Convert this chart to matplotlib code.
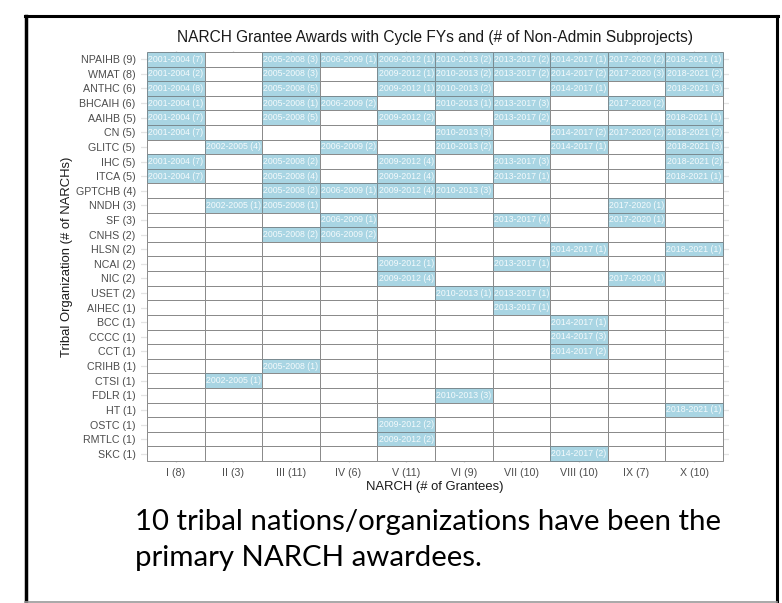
import matplotlib
matplotlib.use("Agg")
import matplotlib.pyplot as plt
from matplotlib.lines import Line2D

# ---------------- data ----------------
organizations = ["NPAIHB", "WMAT", "ANTHC", "BHCAIH", "AAIHB", "CN", "GLITC", "IHC",
                 "ITCA", "GPTCHB", "NNDH", "SF", "CNHS", "HLSN", "NCAI", "NIC", "USET",
                 "AIHEC", "BCC", "CCCC", "CCT", "CRIHB", "CTSI", "FDLR", "HT", "OSTC",
                 "RMTLC", "SKC"]
narch_cycles = ["I", "II", "III", "IV", "V", "VI", "VII", "VIII", "IX", "X"]
cycle_years = ["2001-2004", "2002-2005", "2005-2008", "2006-2009", "2009-2012",
               "2010-2013", "2013-2017", "2014-2017", "2017-2020", "2018-2021"]
N = None
# number of non-admin subprojects per NARCH cycle (None = no award)
subprojects = [
    [7, N, 3, 1, 1, 2, 2, 1, 2, 1],   # NPAIHB
    [2, N, 3, N, 1, 2, 2, 2, 3, 2],   # WMAT
    [8, N, 5, N, 1, 2, N, 1, N, 3],   # ANTHC
    [1, N, 1, 2, N, 1, 3, N, 2, N],   # BHCAIH
    [7, N, 5, N, 2, N, 2, N, N, 1],   # AAIHB
    [7, N, N, N, N, 3, N, 2, 2, 2],   # CN
    [N, 4, N, 2, N, 2, N, 1, N, 3],   # GLITC
    [7, N, 2, N, 4, N, 3, N, N, 2],   # IHC
    [7, N, 4, N, 4, N, 1, N, N, 1],   # ITCA
    [N, N, 2, 1, 4, 3, N, N, N, N],   # GPTCHB
    [N, 1, 1, N, N, N, N, N, 1, N],   # NNDH
    [N, N, N, 1, N, N, 4, N, 1, N],   # SF
    [N, N, 2, 2, N, N, N, N, N, N],   # CNHS
    [N, N, N, N, N, N, N, 1, N, 1],   # HLSN
    [N, N, N, N, 1, N, 1, N, N, N],   # NCAI
    [N, N, N, N, 4, N, N, N, 1, N],   # NIC
    [N, N, N, N, N, 1, 1, N, N, N],   # USET
    [N, N, N, N, N, N, 1, N, N, N],   # AIHEC
    [N, N, N, N, N, N, N, 1, N, N],   # BCC
    [N, N, N, N, N, N, N, 3, N, N],   # CCCC
    [N, N, N, N, N, N, N, 2, N, N],   # CCT
    [N, N, 1, N, N, N, N, N, N, N],   # CRIHB
    [N, 1, N, N, N, N, N, N, N, N],   # CTSI
    [N, N, N, N, N, 3, N, N, N, N],   # FDLR
    [N, N, N, N, N, N, N, N, N, 1],   # HT
    [N, N, N, N, 2, N, N, N, N, N],   # OSTC
    [N, N, N, N, 2, N, N, N, N, N],   # RMTLC
    [N, N, N, N, N, N, N, 2, N, N],   # SKC
]

title = "NARCH Grantee Awards with Cycle FYs and (# of Non-Admin Subprojects)"
xlabel = "NARCH (# of Grantees)"
ylabel = "Tribal Organization (# of NARCHs)"
caption_lines = ["10 tribal nations/organizations have been the",
                 "primary NARCH awardees."]

# ---------------- figure ----------------
W, H = 782, 603
fig = plt.figure(figsize=(W / 100, H / 100), dpi=100)
fig.patch.set_facecolor("white")

FONT = ["Liberation Sans", "DejaVu Sans"]

ax = fig.add_axes([141.2 / W, 1 - 462.5 / H, 587.5 / W, 412 / H])
n_rows, n_cols = len(organizations), len(narch_cycles)

ax.set_xlim(-0.6, n_cols - 1 + 0.6)
ax.set_ylim(n_rows - 1 + 0.6, -0.6)
ax.set_xticks(range(n_cols))
ax.set_yticks(range(n_rows))
ax.grid(True, color="#e3e3e3", lw=0.9)
ax.set_axisbelow(True)
for s in ax.spines.values():
    s.set_visible(False)

tile_blue = "#a9d5e3"
for i, row in enumerate(subprojects):
    for j, n in enumerate(row):
        filled = n is not None
        ax.bar(j, 1, width=1, bottom=i - 0.5,
               color=tile_blue if filled else "white",
               edgecolor="#7a8a90" if filled else "#8a8a8a",
               linewidth=0.7, zorder=2)
        if filled:
            ax.text(j, i, f"{cycle_years[j]} ({n})", ha="center", va="center",
                    fontsize=6.3, color="#f4fafc", family=FONT, zorder=3)

col_counts = [sum(1 for r in subprojects if r[j] is not None) for j in range(n_cols)]
row_counts = [sum(1 for v in r if v is not None) for r in subprojects]
ax.set_xticklabels([f"{c} ({k})" for c, k in zip(narch_cycles, col_counts)],
                   fontsize=7.7, color="#4d4d4d", family=FONT)
ax.set_yticklabels([f"{o} ({k})" for o, k in zip(organizations, row_counts)],
                   fontsize=7.7, color="#4d4d4d", family=FONT)
ax.tick_params(length=0, pad=4.0)

ax.set_xlabel(xlabel, fontsize=9.4, color="#1a1a1a", family=FONT, labelpad=2)
ax.set_ylabel(ylabel, fontsize=9.4, color="#1a1a1a", family=FONT, labelpad=2)
ax.set_title(title, fontsize=11.2, color="#1a1a1a", family=FONT, pad=6)

# caption
CAP_FONT = ["Lato", "DejaVu Sans"]
fig.text(135 / W, 1 - 530 / H, caption_lines[0], fontsize=21.2, family=CAP_FONT,
         ha="left", va="baseline", color="black")
fig.text(135 / W, 1 - 566 / H, caption_lines[1], fontsize=21.2, family=CAP_FONT,
         ha="left", va="baseline", color="black")

# slide frame
fig.add_artist(Line2D([25.5 / W, 25.5 / W], [1 - 16 / H, 0], color="black", lw=2.5))
fig.add_artist(Line2D([777 / W, 777 / W], [1 - 16 / H, 0], color="black", lw=2.2))
fig.add_artist(Line2D([24.5 / W, 778 / W], [1 - 16 / H, 1 - 16 / H], color="black", lw=2.2))
fig.add_artist(Line2D([25 / W, 777 / W], [1 - 601.5 / H, 1 - 601.5 / H], color="#9a9a9a", lw=1.2))

fig.savefig("out.png", dpi=100, facecolor="white")
